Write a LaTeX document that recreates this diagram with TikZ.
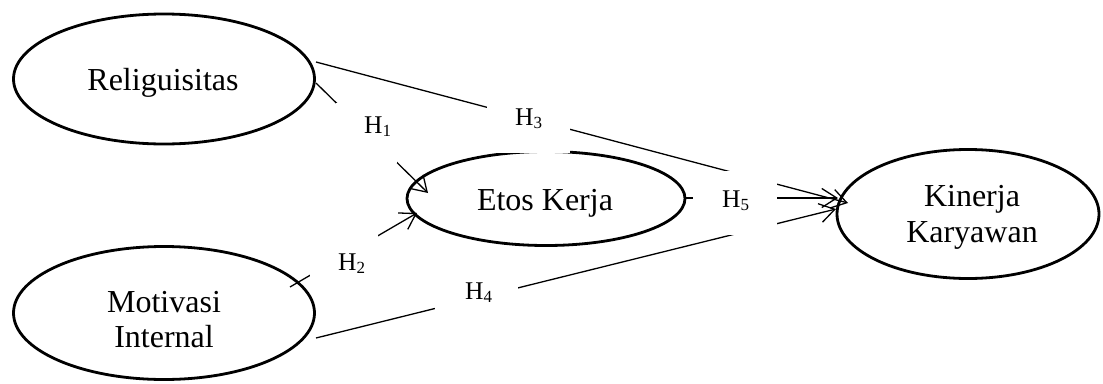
\documentclass[tikz,border=0pt]{standalone}
\usepackage{fontspec}
\setmainfont{Liberation Serif}
\usetikzlibrary{shapes.geometric,arrows.meta}
\newcommand\hsub[1]{H\raisebox{-3.5pt}{\fontsize{17}{17}\selectfont #1}}
\begin{document}
\begin{tikzpicture}[x=1pt,y=-1pt,
  var/.style={draw=black,line width=2.8pt,ellipse,inner sep=0pt},
  big/.style={font=\fontsize{32}{36}\selectfont,inner sep=0pt,anchor=base},
  hl/.style={font=\fontsize{25.5}{30}\selectfont,inner sep=0pt,anchor=base west},
  conn/.style={line width=1.3pt},
  arr/.style={conn,-{Straight Barb[length=15pt,width=19pt,line width=1.3pt]}},
  gap/.style={fill=white,draw=none,inner sep=0pt,anchor=north west}]
\useasboundingbox (0,0) rectangle (1103,383);
% ellipses
\node[var,minimum width=301pt,minimum height=130pt] (rel) at (164,79) {};
\node[var,minimum width=301pt,minimum height=133pt] (mot) at (164,313) {};
\node[var,minimum width=278pt,minimum height=94pt] (eto) at (546,198.5) {};
\node[var,minimum width=262pt,minimum height=129pt] (kin) at (968,214) {};
% texts
\node[big] (trel) at (163,90) {Religuisitas};
\node[big] (tmot1) at (164,312) {Motivasi};
\node[big] (tmot2) at (164,347) {Internal};
\node[big] (teto) at (545,210) {Etos Kerja};
\node[big] (tkin1) at (972,206) {Kinerja};
\node[big] (tkin2) at (972,242) {Karyawan};
% connector end points
\coordinate (r3) at (316,62);
\coordinate (r1) at (316,83);
\coordinate (m2) at (290,287);
\coordinate (m4) at (316,338);
\coordinate (e1) at (428,193);
\coordinate (e2) at (417,213);
\coordinate (e5) at (686,198);
\coordinate (k3) at (848,203);
\coordinate (k5) at (838,198);
\coordinate (k4) at (836,209);
% connectors
\draw[arr] (r1) -- (e1);
\draw[arr] (m2) -- (e2);
\draw[arr] (r3) -- (k3);
\draw[arr] (m4) -- (k4);
\draw[arr] (e5) -- (k5);
% white label boxes
\node[gap,minimum width=61pt,minimum height=60pt] (g1) at (336,103) {};
\node[gap,minimum width=68pt,minimum height=54pt] (g2) at (310,228) {};
\node[gap,minimum width=83pt,minimum height=55pt] (g3) at (487,98) {};
\node[gap,minimum width=83pt,minimum height=40pt] (g4) at (435,280) {};
\node[gap,minimum width=84pt,minimum height=64pt] (g5) at (693,171) {};
% labels
\node[hl] (h1) at (364,133) {\hsub{1}};
\node[hl] (h2) at (338,270) {\hsub{2}};
\node[hl] (h3) at (515,125) {\hsub{3}};
\node[hl] (h4) at (465,299) {\hsub{4}};
\node[hl] (h5) at (722,207) {\hsub{5}};
\end{tikzpicture}
\end{document}
